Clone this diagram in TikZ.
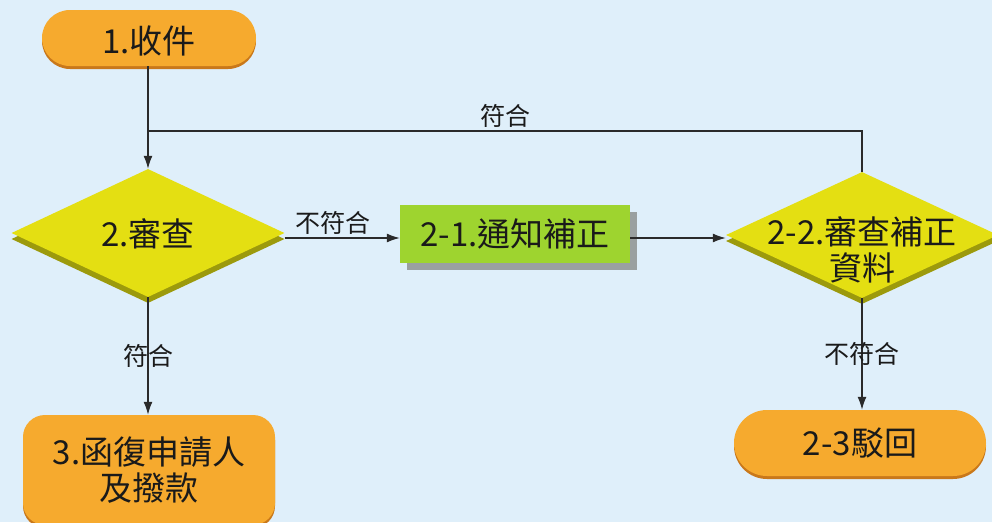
\documentclass[tikz,border=0pt]{standalone}
\usepackage{fontspec}
\setmainfont{Noto Sans CJK TC}
\usetikzlibrary{shapes.geometric,arrows.meta,shadows}
\definecolor{bg}{HTML}{DFEFFA}
\definecolor{pillfill}{HTML}{F6AA2E}
\definecolor{pillshadow}{HTML}{C9781A}
\definecolor{diafill}{HTML}{E4DF12}
\definecolor{diashadow}{HTML}{9C9A0C}
\definecolor{boxfill}{HTML}{9ED42F}
\definecolor{boxshadow}{HTML}{9AA0A0}
\definecolor{linec}{HTML}{2A2A2A}
\definecolor{txt}{HTML}{1A1A1A}
\begin{document}
\begin{tikzpicture}[x=1pt,y=-1pt,
  bigfont/.style={font=\fontsize{33}{36}\selectfont, text=txt},
  pill/.style={draw=none, fill=pillfill, bigfont,
    general shadow={shadow yshift=-3pt, fill=pillshadow}},
  dia/.style={diamond, draw=none, fill=diafill, inner sep=0pt,
    general shadow={shadow yshift=-6pt, fill=diashadow}},
  gbox/.style={rectangle, draw=none, fill=boxfill, bigfont,
    general shadow={shadow xshift=7pt, shadow yshift=-7pt, fill=boxshadow}},
  arr/.style={draw=linec, line width=1.4pt, -{Latex[length=13pt,width=9pt]}},
  ln/.style={draw=linec, line width=1.4pt},
  lbl/.style={font=\fontsize{25}{28}\selectfont, text=txt, inner sep=2pt}
]
\fill[bg] (0,0) rectangle (992,522);
\useasboundingbox (0,0) rectangle (992,522);

\node[pill, minimum width=214pt, minimum height=56pt, rounded corners=28pt] (n1) at (149,38) {};
\node[bigfont] (t1) at (149,41) {1.收件};
\node[dia, minimum width=273pt, minimum height=128pt] (n2) at (148,233) {};
\node[bigfont] (t2) at (148,234) {2.審查};
\node[gbox, minimum width=230pt, minimum height=58pt] (n21) at (515,234) {2-1.通知補正};
\node[dia, minimum width=272pt, minimum height=126pt] (n22) at (862,235) {};
\node[bigfont, align=center] (t22) at (862,250) {2-2.審查補正\\資料};
\node[pill, minimum width=252pt, minimum height=66pt, rounded corners=33pt] (n23) at (860,443) {2-3駁回};
\node[pill, minimum width=252pt, minimum height=110pt, rounded corners=22pt] (n3) at (149,470) {};
\node[bigfont, align=center] (t3) at (149,470) {3.函復申請人\\及撥款};

\coordinate (j1) at (148,131);
\coordinate (j2) at (862,131);

\draw[arr] (n1.south -| n2.north) -- (n2.north);
\draw[ln] (n22.north) -- (j2) -- node[lbl, above=1pt] {符合} (j1);
\draw[arr] ([yshift=-5pt]n2.east) -- node[lbl, above=1pt, pos=0.42] {不符合} ([yshift=-5pt]n2.east -| n21.west);
\draw[arr] ([yshift=-4pt]n21.east) -- ([yshift=-4pt]n21.east -| n22.west);
\draw[arr] (n2.south) -- node[lbl, pos=0.5] {符合} (n3.north -| n2.south);
\draw[arr] (n22.south) -- node[lbl, pos=0.5] {不符合} (n23.north -| n22.south);
\end{tikzpicture}
\end{document}
